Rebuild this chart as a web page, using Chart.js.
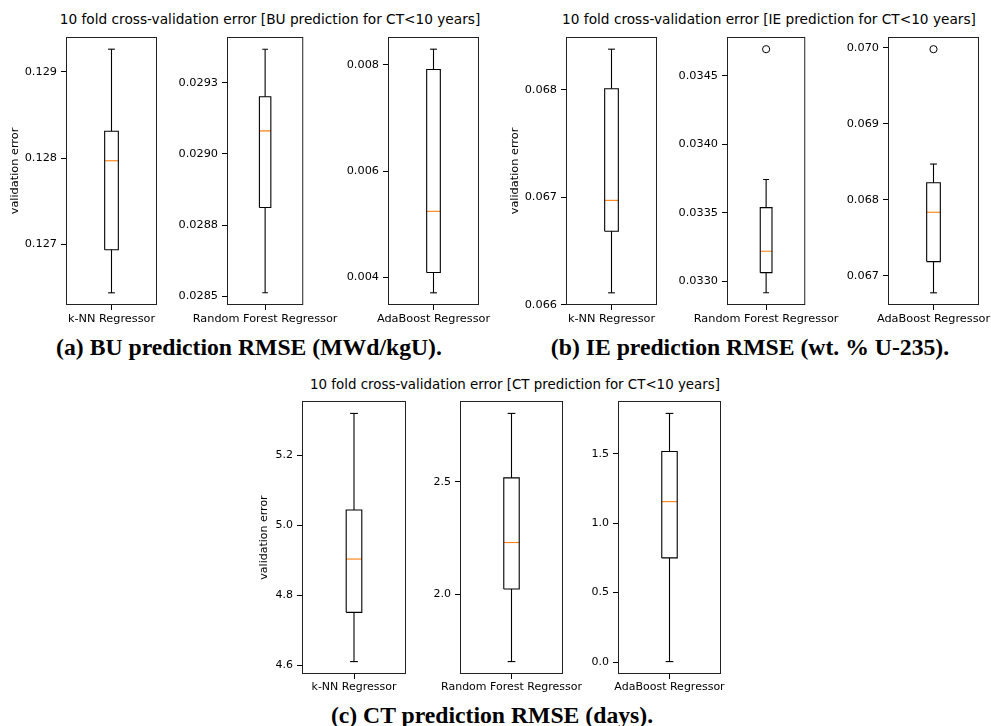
<!DOCTYPE html>
<html>
<head>
<meta charset="utf-8">
<script src="https://cdn.jsdelivr.net/npm/chart.js@4"></script>
<style>
body { margin: 0; background: #fff; }
#page { position: relative; width: 991px; height: 726px; overflow: hidden; background: #fff; }
#page canvas { position: absolute; }
.title { position: absolute; font-family: "DejaVu Sans"; color: #000; white-space: nowrap; transform: translate(-50%, -50%); }
.caption { position: absolute; font-family: "Liberation Serif"; font-weight: bold; font-size: 23.7px; color: #000; white-space: nowrap; transform: translate(-50%, -50%); }
</style>
</head>
<body>
<div id="page"></div>
<script>
// regressors compared in every panel
const models = ['k-NN Regressor', 'Random Forest Regressor', 'AdaBoost Regressor']

// BU prediction error, one value per regressor
const buLow = [0.126438, 0.028512, 0.003713]
const buQ1 = [0.126938, 0.028812, 0.004094]
const buMed = [0.127969, 0.029081, 0.005245]
const buQ3 = [0.128311, 0.029201, 0.007912]
const buHigh = [0.129262, 0.029368, 0.008294]
const buFliers = [[], [], []]

// IE prediction error
const ieLow = [0.066111, 0.032918, 0.066773]
const ieQ1 = [0.066685, 0.033065, 0.067184]
const ieMed = [0.066972, 0.033221, 0.067834]
const ieQ3 = [0.068012, 0.033539, 0.068223]
const ieHigh = [0.06838, 0.033744, 0.068469]
const ieFliers = [[], [0.034693], [0.069982]]

// CT prediction error
const ctLow = [4.6106, 1.7025, 0.003]
const ctQ1 = [4.7514, 2.0249, 0.75]
const ctMed = [4.9037, 2.2309, 1.1556]
const ctQ3 = [5.0437, 2.5178, 1.517]
const ctHigh = [5.32, 2.8037, 1.791]
const ctFliers = [[], [], []]

// y tick values and their printed labels
const buTicks = [[0.127, 0.128, 0.129], [0.0285, 0.02875, 0.029, 0.02925], [0.004, 0.006, 0.008]]
const buTickLabels = [['0.127', '0.128', '0.129'], ['0.0285', '0.0288', '0.0290', '0.0293'], ['0.004', '0.006', '0.008']]
const ieTicks = [[0.066, 0.067, 0.068], [0.033, 0.0335, 0.034, 0.0345], [0.067, 0.068, 0.069, 0.070]]
const ieTickLabels = [['0.066', '0.067', '0.068'], ['0.0330', '0.0335', '0.0340', '0.0345'], ['0.067', '0.068', '0.069', '0.070']]
const ctTicks = [[4.6, 4.8, 5.0, 5.2], [2.0, 2.5], [0.0, 0.5, 1.0, 1.5]]
const ctTickLabels = [['4.6', '4.8', '5.0', '5.2'], ['2.0', '2.5'], ['0.0', '0.5', '1.0', '1.5']]

const titles = [
    '10 fold cross-validation error [BU prediction for CT<10 years]',
    '10 fold cross-validation error [IE prediction for CT<10 years]',
    '10 fold cross-validation error [CT prediction for CT<10 years]'
]
const captions = [
    '(a) BU prediction RMSE (MWd/kgU).',
    '(b) IE prediction RMSE (wt. % U-235).',
    '(c) CT prediction RMSE (days).'
]
const yLabel = 'validation error'

// where each panel sits on the page
const panels = [
    {low: buLow, q1: buQ1, med: buMed, q3: buQ3, high: buHigh, fliers: buFliers, ticks: buTicks, tickLabels: buTickLabels,
     top: 37, bottom: 305, lefts: [66, 227, 388], rights: [157, 317, 479], firstLeft: 62,
     titleX: 270, titleY: 19, titleSize: 13.7, capX: 249, capY: 347, font: 11.3},
    {low: ieLow, q1: ieQ1, med: ieMed, q3: ieQ3, high: ieHigh, fliers: ieFliers, ticks: ieTicks, tickLabels: ieTickLabels,
     top: 37, bottom: 305, lefts: [566, 727, 888], rights: [657, 818, 979], firstLeft: 62,
     titleX: 769, titleY: 19, titleSize: 13.7, capX: 750, capY: 347, font: 11.3},
    {low: ctLow, q1: ctQ1, med: ctMed, q3: ctQ3, high: ctHigh, fliers: ctFliers, ticks: ctTicks, tickLabels: ctTickLabels,
     top: 401, bottom: 674, lefts: [302, 460, 618], rights: [406, 563, 721], firstLeft: 48,
     titleX: 515, titleY: 384, titleSize: 13.4, capX: 492, capY: 715, font: 11}
]

const framePlugin = {
    id: 'frame',
    afterDatasetsDraw(chart) {
        const a = chart.chartArea
        const ctx = chart.ctx
        ctx.save()
        ctx.strokeStyle = '#222'
        ctx.lineWidth = 1
        ctx.strokeRect(a.left + 0.5, a.top + 0.5, a.right - a.left - 1, a.bottom - a.top - 1)
        ctx.restore()
    }
}

function line(points, color) {
    return {data: points, showLine: true, borderColor: color, borderWidth: 1.1, pointRadius: 0, fill: false}
}

function boxDatasets(lo, q1, med, q3, hi, fliers) {
    const w = 0.075
    return [
        line([{x: 1 - w, y: q1}, {x: 1 + w, y: q1}, {x: 1 + w, y: q3}, {x: 1 - w, y: q3}, {x: 1 - w, y: q1}], '#000'),
        line([{x: 1, y: lo}, {x: 1, y: q1}], '#000'),
        line([{x: 1, y: q3}, {x: 1, y: hi}], '#000'),
        line([{x: 1 - w / 2, y: lo}, {x: 1 + w / 2, y: lo}], '#000'),
        line([{x: 1 - w / 2, y: hi}, {x: 1 + w / 2, y: hi}], '#000'),
        line([{x: 1 - w, y: med}, {x: 1 + w, y: med}], '#ff7f0e'),
        {data: fliers.map(v => ({x: 1, y: v})), showLine: false, pointStyle: 'circle', pointRadius: 3.6,
         borderColor: '#000', backgroundColor: 'rgba(0,0,0,0)', borderWidth: 1}
    ]
}

const page = document.querySelector('#page')
const T = 12, B = 26, R = 45

panels.forEach((p, pi) => {
    const t = document.createElement('div')
    t.className = 'title'
    t.style.left = p.titleX + 'px'
    t.style.top = p.titleY + 'px'
    t.style.fontSize = p.titleSize + 'px'
    t.textContent = titles[pi]
    page.appendChild(t)

    const c = document.createElement('div')
    c.className = 'caption'
    c.style.left = p.capX + 'px'
    c.style.top = p.capY + 'px'
    c.textContent = captions[pi]
    page.appendChild(c)

    models.forEach((name, i) => {
        const L = i == 0 ? p.firstLeft : 66
        const fw = p.rights[i] - p.lefts[i]
        const fh = p.bottom - p.top
        const canvas = document.createElement('canvas')
        canvas.width = L + fw + R
        canvas.height = T + fh + B
        canvas.style.left = (p.lefts[i] - L) + 'px'
        canvas.style.top = (p.top - T) + 'px'
        page.appendChild(canvas)

        const vals = [p.low[i], p.high[i]].concat(p.fliers[i])
        const vmin = Math.min(...vals), vmax = Math.max(...vals)
        const m = (vmax - vmin) * 0.05
        const ticks = p.ticks[i], labels = p.tickLabels[i]
        const font = {family: 'DejaVu Sans', size: p.font}

        new Chart(canvas, {
            type: 'scatter',
            data: {datasets: boxDatasets(p.low[i], p.q1[i], p.med[i], p.q3[i], p.high[i], p.fliers[i])},
            options: {
                responsive: false,
                animation: false,
                devicePixelRatio: 1,
                layout: {padding: {left: 0, top: T, right: R, bottom: 0}},
                plugins: {legend: {display: false}, tooltip: {enabled: false}},
                scales: {
                    x: {
                        type: 'linear', min: 0.5, max: 1.5,
                        afterBuildTicks: s => { s.ticks = [{value: 1}] },
                        afterFit: s => { s.height = B },
                        border: {display: false},
                        grid: {drawOnChartArea: false, drawTicks: true, tickLength: 5, color: '#000'},
                        ticks: {autoSkip: false, maxRotation: 0, padding: 2, color: '#000', font: font, callback: () => name}
                    },
                    y: {
                        type: 'linear', min: vmin - m, max: vmax + m,
                        afterBuildTicks: s => { s.ticks = ticks.map(v => ({value: v})) },
                        afterFit: s => { s.width = L },
                        border: {display: false},
                        grid: {drawOnChartArea: false, drawTicks: true, tickLength: 5, color: '#000'},
                        ticks: {autoSkip: false, padding: 4, color: '#000', font: font, callback: (v, idx) => labels[idx]},
                        title: {display: i == 0, text: yLabel, color: '#000', font: font}
                    }
                }
            },
            plugins: [framePlugin]
        })
    })
})
</script>
</body>
</html>
